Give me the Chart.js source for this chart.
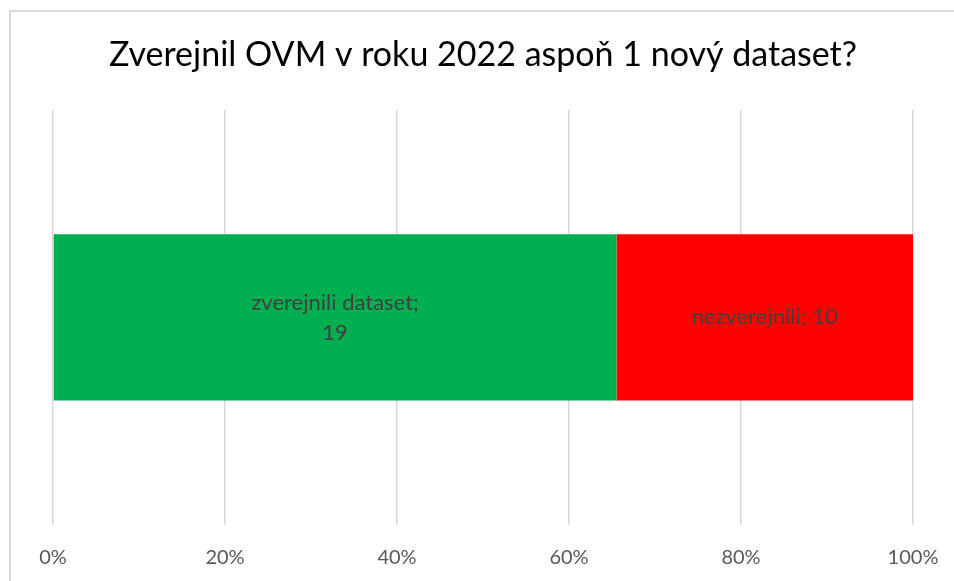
<!DOCTYPE html>
<html>
<head>
<meta charset="utf-8">
<script src="https://cdn.jsdelivr.net/npm/chart.js@4.4.1/dist/chart.umd.min.js"></script>
<style>
  html, body { margin: 0; padding: 0; background: #fff; }
  #wrap { position: relative; width: 954px; height: 581px; overflow: hidden; }
  #frame { position: absolute; left: 9px; top: 10px; width: 1000px; height: 700px;
           border-top: 2px solid #d9d9d9; border-left: 2px solid #d9d9d9; box-sizing: border-box; }
  canvas { position: absolute; left: 0; top: 0; }
</style>
</head>
<body>
<div id="wrap">
  <div id="frame"></div>
  <canvas id="c" width="954" height="581"></canvas>
</div>
<script>
const titleText = 'Zverejnil OVM v roku 2022 aspoň 1 nový dataset?';
const categories = [''];
const seriesNames = ['zverejnili dataset', 'nezverejnili'];
const publishedCounts = [19];
const notPublishedCounts = [10];
const tickLabels = ['0%', '20%', '40%', '60%', '80%', '100%'];
const seriesColors = ['#00B050', '#FF0000'];

const totals = categories.map((_, i) => publishedCounts[i] + notPublishedCounts[i]);
const pct = (arr) => arr.map((v, i) => v / totals[i] * 100);
const rawCounts = [publishedCounts, notPublishedCounts];

const FONT = 'Lato, "Open Sans", sans-serif';

const labelPlugin = {
  id: 'segLabels',
  afterDatasetsDraw(chart) {
    const ctx = chart.ctx;
    ctx.save();
    ctx.fillStyle = '#404040';
    ctx.font = '22px ' + FONT;
    ctx.textAlign = 'center';
    ctx.textBaseline = 'middle';
    chart.data.datasets.forEach((ds, di) => {
      const meta = chart.getDatasetMeta(di);
      meta.data.forEach((el, i) => {
        const cx = (el.x + el.base) / 2;
        const cy = el.y;
        if (ds.wrapLabel) {
          ctx.fillText(ds.label + ';', cx, cy - 14);
          ctx.fillText(String(rawCounts[di][i]), cx, cy + 16);
        } else {
          ctx.fillText(ds.label + '; ' + rawCounts[di][i], cx, cy);
        }
      });
    });
    ctx.restore();
  }
};

new Chart(document.getElementById('c'), {
  type: 'bar',
  data: {
    labels: categories,
    datasets: [
      { label: seriesNames[0], data: pct(publishedCounts), backgroundColor: seriesColors[0],
        barPercentage: 0.4, categoryPercentage: 1, wrapLabel: true },
      { label: seriesNames[1], data: pct(notPublishedCounts), backgroundColor: seriesColors[1],
        barPercentage: 0.4, categoryPercentage: 1, wrapLabel: false }
    ]
  },
  options: {
    indexAxis: 'y',
    responsive: false,
    animation: false,
    layout: { padding: { left: 53, right: 41, top: 0, bottom: 0 } },
    plugins: {
      legend: { display: false },
      tooltip: { enabled: false },
      title: {
        display: true, text: titleText, color: '#000000',
        font: { family: FONT, size: 34, weight: 'normal' },
        padding: { top: 35, bottom: 34 }
      }
    },
    scales: {
      x: {
        stacked: true, min: 0, max: 100,
        ticks: { stepSize: 20, color: '#595959', padding: 21,
                 font: { family: FONT, size: 20 },
                 callback: (v, i) => tickLabels[i] },
        grid: { color: '#d9d9d9', lineWidth: 1.5, drawTicks: false },
        border: { display: false },
        afterFit: (s) => { s.height = 56; s.paddingLeft = 0; s.paddingRight = 0; }
      },
      y: {
        stacked: true, display: false
      }
    }
  },
  plugins: [labelPlugin]
});
</script>
</body>
</html>
